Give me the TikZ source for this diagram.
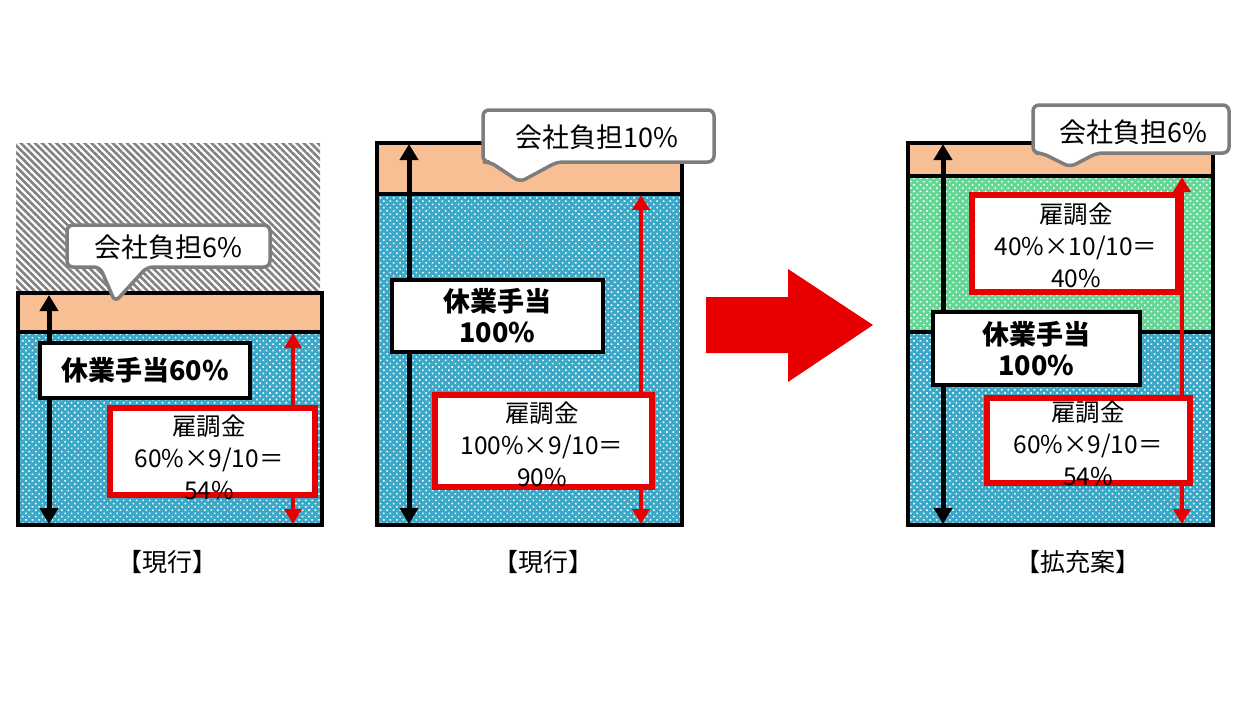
\documentclass[tikz,border=0pt]{standalone}
\usepackage{fontspec}
\setmainfont{Noto Sans CJK JP}
\usetikzlibrary{arrows.meta,patterns.meta}
\definecolor{bandorange}{RGB}{248,190,148}
\definecolor{bandblue}{RGB}{58,168,198}
\definecolor{bandgreen}{RGB}{100,215,150}
\definecolor{hatchgray}{RGB}{130,130,130}
\definecolor{calloutgray}{RGB}{125,125,125}
\definecolor{mainred}{RGB}{232,0,0}
\begin{document}
\begin{tikzpicture}[x=1pt,y=-1pt,
  band/.style={draw=black, line width=3.3pt},
  orangeband/.style={band, fill=bandorange},
  blueband/.style={band, preaction={fill=bandblue}, pattern={Dots[angle=45,distance=4.6pt,radius=1.1pt]}, pattern color=white},
  greenband/.style={band, preaction={fill=bandgreen}, pattern={Dots[angle=45,distance=4.6pt,radius=1.1pt]}, pattern color=white},
  hatched/.style={preaction={fill=white}, pattern={Lines[angle=-45,distance=5pt,line width=2.6pt]}, pattern color=hatchgray},
  blackarrow/.style={draw=black, line width=5pt, {Triangle[width=18pt,length=16pt]}-{Triangle[width=18pt,length=16pt]}},
  redarrow/.style={draw=mainred, line width=4.5pt, {Triangle[width=17pt,length=15pt]}-{Triangle[width=17pt,length=15pt]}},
  blackbox/.style={draw=black, fill=white, line width=4pt, inner sep=0pt, align=center, font=\bfseries\fontsize{27}{31}\selectfont},
  redbox/.style={draw=mainred, fill=white, line width=6pt, inner sep=0pt},
  redtext/.style={align=center, inner sep=0pt, font=\fontsize{24.5}{32}\selectfont},
  callout/.style={draw=calloutgray, fill=white, line width=3.5pt, rounded corners=6pt, line join=round},
  callouttext/.style={inner sep=0pt, font=\fontsize{27}{30}\selectfont},
  caption/.style={inner sep=0pt, font=\fontsize{25}{28}\selectfont}
]
\useasboundingbox (0,0) rectangle (1248,702);
\fill[white] (0,0) rectangle (1248,702);

% ---------------- column 1 ----------------
\path[hatched] (16,143) rectangle (320,293);
\path[orangeband] (18,293) rectangle (322,332);
\path[blueband] (18,332) rectangle (322,525);
\coordinate (a1t) at (49,295);
\coordinate (a1b) at (49,524);
\coordinate (r1t) at (293,333);
\coordinate (r1b) at (293,524);
\draw[blackarrow] (a1t) -- (a1b);
\draw[redarrow] (r1t) -- (r1b);
\node[blackbox, minimum width=210pt, minimum height=55pt] (h1) at (145,370.5) {休業手当60\%};
\node[redbox, minimum width=205pt, minimum height=87pt] (k1) at (212.5,451.5) {};
\node[redtext] (k1t) at (209,457) {雇調金\\60\%×9/10＝\\54\%};
\draw[callout] (67,225) -- (270,225) -- (270,267) -- (147,267) -- (115,302) -- (100,267) -- (67,267) -- cycle;
\node[callouttext] (c1) at (168,247) {会社負担6\%};
\node[caption] (l1) at (167,562) {【現行】};

% ---------------- column 2 ----------------
\path[orangeband] (377,143) rectangle (682,194);
\path[blueband] (377,194) rectangle (682,525);
\coordinate (a2t) at (409,144);
\coordinate (a2b) at (409,524);
\coordinate (r2t) at (641,195);
\coordinate (r2b) at (641,524);
\draw[blackarrow] (a2t) -- (a2b);
\draw[redarrow] (r2t) -- (r2b);
\node[blackbox, minimum width=211pt, minimum height=72pt] (h2) at (497.5,316) {休業手当\\100\%};
\node[redbox, minimum width=217pt, minimum height=92pt] (k2) at (543.5,441) {};
\node[redtext] (k2t) at (542,444) {雇調金\\100\%×9/10＝\\90\%};
\draw[callout] (483,110) -- (714,110) -- (714,162) -- (557,162) -- (520,182) -- (490,162) -- (483,162) -- cycle;
\node[callouttext] (c2) at (597,137) {会社負担10\%};
\node[caption] (l2) at (543,562) {【現行】};

% ---------------- big arrow ----------------
\fill[mainred] (706,297) -- (788,297) -- (788,269) -- (873,325) -- (788,382) -- (788,353) -- (706,353) -- cycle;

% ---------------- column 3 ----------------
\path[orangeband] (908,143) rectangle (1213,176);
\path[greenband] (908,176) rectangle (1213,332);
\path[blueband] (908,332) rectangle (1213,525);
\coordinate (a3t) at (943,144);
\coordinate (a3b) at (943,524);
\coordinate (r3t) at (1182,177);
\coordinate (r3b) at (1182,524);
\draw[blackarrow] (a3t) -- (a3b);
\draw[redarrow] (r3t) -- (r3b);
\node[redbox, minimum width=206pt, minimum height=97pt] (k3a) at (1075,243.5) {};
\node[redtext] (k3at) at (1076,245) {雇調金\\40\%×10/10＝\\40\%};
\node[blackbox, minimum width=207pt, minimum height=73pt] (h3) at (1036.5,348.5) {休業手当\\100\%};
\node[redbox, minimum width=203pt, minimum height=85pt] (k3b) at (1088.5,440.5) {};
\node[redtext] (k3bt) at (1088,443) {雇調金\\60\%×9/10＝\\54\%};
\draw[callout] (1033,105) -- (1229,105) -- (1229,153) -- (1097,153) -- (1070,167) -- (1042,153) -- (1033,153) -- cycle;
\node[callouttext] (c3) at (1133,132) {会社負担6\%};
\node[caption] (l3) at (1078,562) {【拡充案】};
\end{tikzpicture}
\end{document}
